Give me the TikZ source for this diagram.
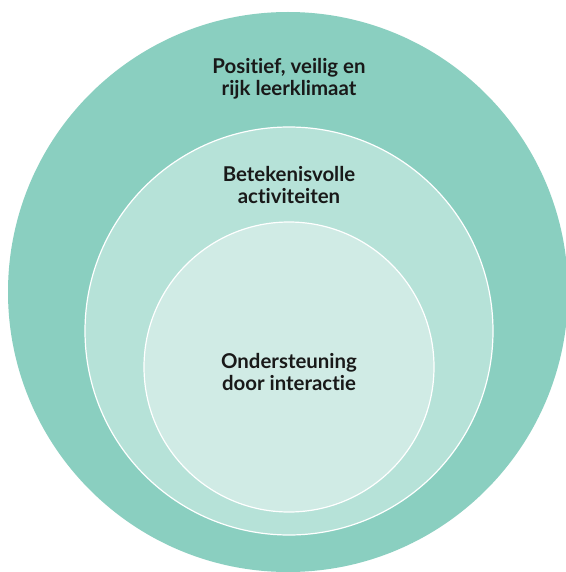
\documentclass[tikz,border=0pt]{standalone}
\usepackage{fontspec}
\setmainfont{Lato}[Ligatures=NoCommon]
\definecolor{ringout}{HTML}{8ACFC0}
\definecolor{ringmid}{HTML}{B6E2D8}
\definecolor{ringin}{HTML}{D0EBE5}
\newcommand{\lring}[4]{%
  \fill[#4] (#1,#2) circle[radius=#3pt];
  \draw[white,line width=1.2pt] (#1,#2) circle[radius=#3pt];}
\tikzset{lbl/.style={font=\bfseries\fontsize{20.4}{22}\selectfont,align=center,text=black!90}}

\begin{document}
\begin{tikzpicture}[x=1pt,y=-1pt]
  \useasboundingbox[fill=white] (0,0) rectangle (565,572);
  \fill[ringout] (288,292) circle[radius=280pt];
  \lring{289}{331}{204}{ringmid}
  \lring{289}{367}{145}{ringin}
  \node[lbl] (klimaat) at (289,79) {Positief, veilig en\\rijk leerklimaat};
  \node[lbl] (activ) at (289,185) {Betekenisvolle\\activiteiten};
  \node[lbl] (inter) at (289,372) {Ondersteuning\\door interactie};
\end{tikzpicture}
\end{document}
